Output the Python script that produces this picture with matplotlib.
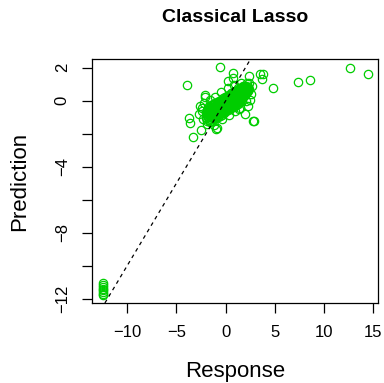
import matplotlib

matplotlib.use("Agg")
import matplotlib.pyplot as plt

plt.rcParams["font.family"] = ["Liberation Sans", "DejaVu Sans"]

# dense central cluster: response value -> list of predictions
core_x = [-2.0, -1.9, -1.8, -1.7, -1.6, -1.5, -1.4, -1.3, -1.2, -1.1, -1.0,
          -0.9, -0.8, -0.7, -0.6, -0.5, -0.4, -0.3, -0.2, -0.1, 0.0, 0.1,
          0.2, 0.3, 0.4, 0.5, 0.6, 0.7, 0.8, 0.9, 1.0, 1.1, 1.2, 1.3, 1.4,
          1.5, 1.6, 1.7, 1.8, 1.9, 2.0, 2.1, 2.2, 2.3, 2.4]
core_y = [
    [-1.05, -0.75], [-1.2, -0.9, -0.55], [-1.0, -0.7, -0.45],
    [-1.15, -0.85, -0.6, -0.3], [-1.3, -0.95, -0.65, -0.4],
    [-1.1, -0.8, -0.5, -0.25], [-1.2, -0.9, -0.6, -0.35],
    [-1.0, -0.75, -0.45, -0.2], [-1.1, -0.85, -0.55, -0.3],
    [-0.95, -0.7, -0.4, -0.15], [-1.05, -0.8, -0.5, -0.25],
    [-0.9, -0.6, -0.35, -0.1], [-1.0, -0.7, -0.45, -0.2],
    [-0.85, -0.55, -0.3, 0.0], [-0.9, -0.65, -0.4, -0.1],
    [-0.75, -0.5, -0.2, 0.05], [-0.85, -0.55, -0.3, 0.0],
    [-0.7, -0.4, -0.15, 0.15], [-0.75, -0.5, -0.2, 0.1],
    [-0.6, -0.35, -0.05, 0.2], [-0.65, -0.4, -0.1, 0.15],
    [-0.5, -0.25, 0.05, 0.3], [-0.55, -0.3, 0.0, 0.25],
    [-0.45, -0.2, 0.1, 0.35], [-0.5, -0.25, 0.05, 0.3],
    [-0.35, -0.1, 0.2, 0.45], [-0.4, -0.15, 0.1, 0.4],
    [-0.3, -0.05, 0.25, 0.5], [-0.35, -0.1, 0.2, 0.45],
    [-0.2, 0.05, 0.3, 0.6], [-0.25, 0.0, 0.25, 0.55],
    [-0.15, 0.1, 0.4, 0.65], [-0.2, 0.05, 0.35, 0.6],
    [-0.05, 0.2, 0.45, 0.75], [-0.1, 0.15, 0.4, 0.7],
    [0.0, 0.3, 0.55, 0.8], [0.05, 0.25, 0.5, 0.75],
    [0.15, 0.4, 0.65, 0.85], [0.2, 0.45, 0.7, 0.9],
    [0.3, 0.55, 0.8], [0.35, 0.6, 0.85], [0.45, 0.7, 0.9],
    [0.5, 0.75], [0.6, 0.85], [0.7],
]

# ragged edge of the cluster
edge_x = [-2.6, -2.7, -2.3, -1.9, -1.2, -0.4, 0.3, 0.9, 1.5, 2.3, 2.6, 2.7,
          2.4, 1.6, 0.8, 0.2, -0.5, -1.1, -1.6, -2.2]
edge_y = [-0.3, -0.8, -1.1, -1.4, -1.45, -1.1, -0.85, -0.6, -0.45, -0.3, 0.4,
          0.9, 1.05, 1.05, 0.95, 0.75, 0.5, 0.25, 0.05, -0.15]

# scattered points around the cluster and far outliers
spread_x = [-0.55, -3.96, 0.71, 0.77, 2.33, 3.48, 3.82, 3.65, 4.77, 7.34,
            8.56, 12.65, 14.4, -3.7, -3.62, -3.35, -2.5, -2.1, -2.44, -2.44,
            -1.6, -0.98, -0.9, 1.96, 2.87, 2.8, 2.1, 1.62, 2.47, 2.13, 0.27,
            1.35, -2.13]
spread_y = [2.02, 0.97, 1.66, 1.39, 1.5, 1.6, 1.62, 1.31, 0.79, 1.15,
            1.24, 1.98, 1.64, -1.03, -1.33, -2.22, -1.8, 0.36, -0.46, -0.64,
            -1.25, -1.7, -1.66, -0.79, -1.23, -1.25, -0.02, -0.04, 0.06, 1.07,
            1.18, -0.52, 0.24]

# low cluster near (-12.5, -11.5)
low_x = [-12.5, -12.5, -12.5, -12.5, -12.5, -12.5, -12.5, -12.5]
low_y = [-11.05, -11.15, -11.3, -11.4, -11.5, -11.6, -11.7, -11.75]

x_ticks = [-10, -5, 0, 5, 10, 15]
y_ticks = [2, 0, -2, -4, -6, -8, -10, -12]
y_labels = ["2", "0", "", "\u22124", "", "\u22128", "", "\u221212"]

xs = [x for x, ys in zip(core_x, core_y) for _ in ys] + edge_x + spread_x + low_x
ys = [y for ys_ in core_y for y in ys_] + edge_y + spread_y + low_y

fig = plt.figure(figsize=(3.84, 3.83), dpi=100)
ax = fig.add_axes([92 / 384, 1 - 303 / 383, 286 / 384, 244 / 383])

ax.plot(xs, ys, "o", mfc="none", mec="#00CD00", ms=6, mew=0.9)
ax.axline((0, 0), slope=1, color="black", lw=0.9, ls=(0, (3, 3)))

ax.set_xlim(-13.57, 15.46)
ax.set_ylim(-12.26, 2.53)
ax.set_xticks(x_ticks)
ax.set_xticklabels([str(t).replace("-", "\u2212") for t in x_ticks])
ax.set_yticks(y_ticks)
ax.set_yticklabels(y_labels, rotation=90, va="center")
ax.tick_params(length=7, width=0.9, labelsize=12, pad=9)
for s in ax.spines.values():
    s.set_linewidth(0.9)

fig.text(235 / 384, 1 - 17 / 383, "Classical Lasso", ha="center", va="center",
         fontsize=14, fontweight="bold")
fig.text(235 / 384, 1 - 372 / 383, "Response", ha="center", va="center", fontsize=16)
fig.text(20 / 384, 1 - 181 / 383, "Prediction", ha="center", va="center",
         fontsize=16, rotation=90)

fig.savefig("out.png", dpi=100)
